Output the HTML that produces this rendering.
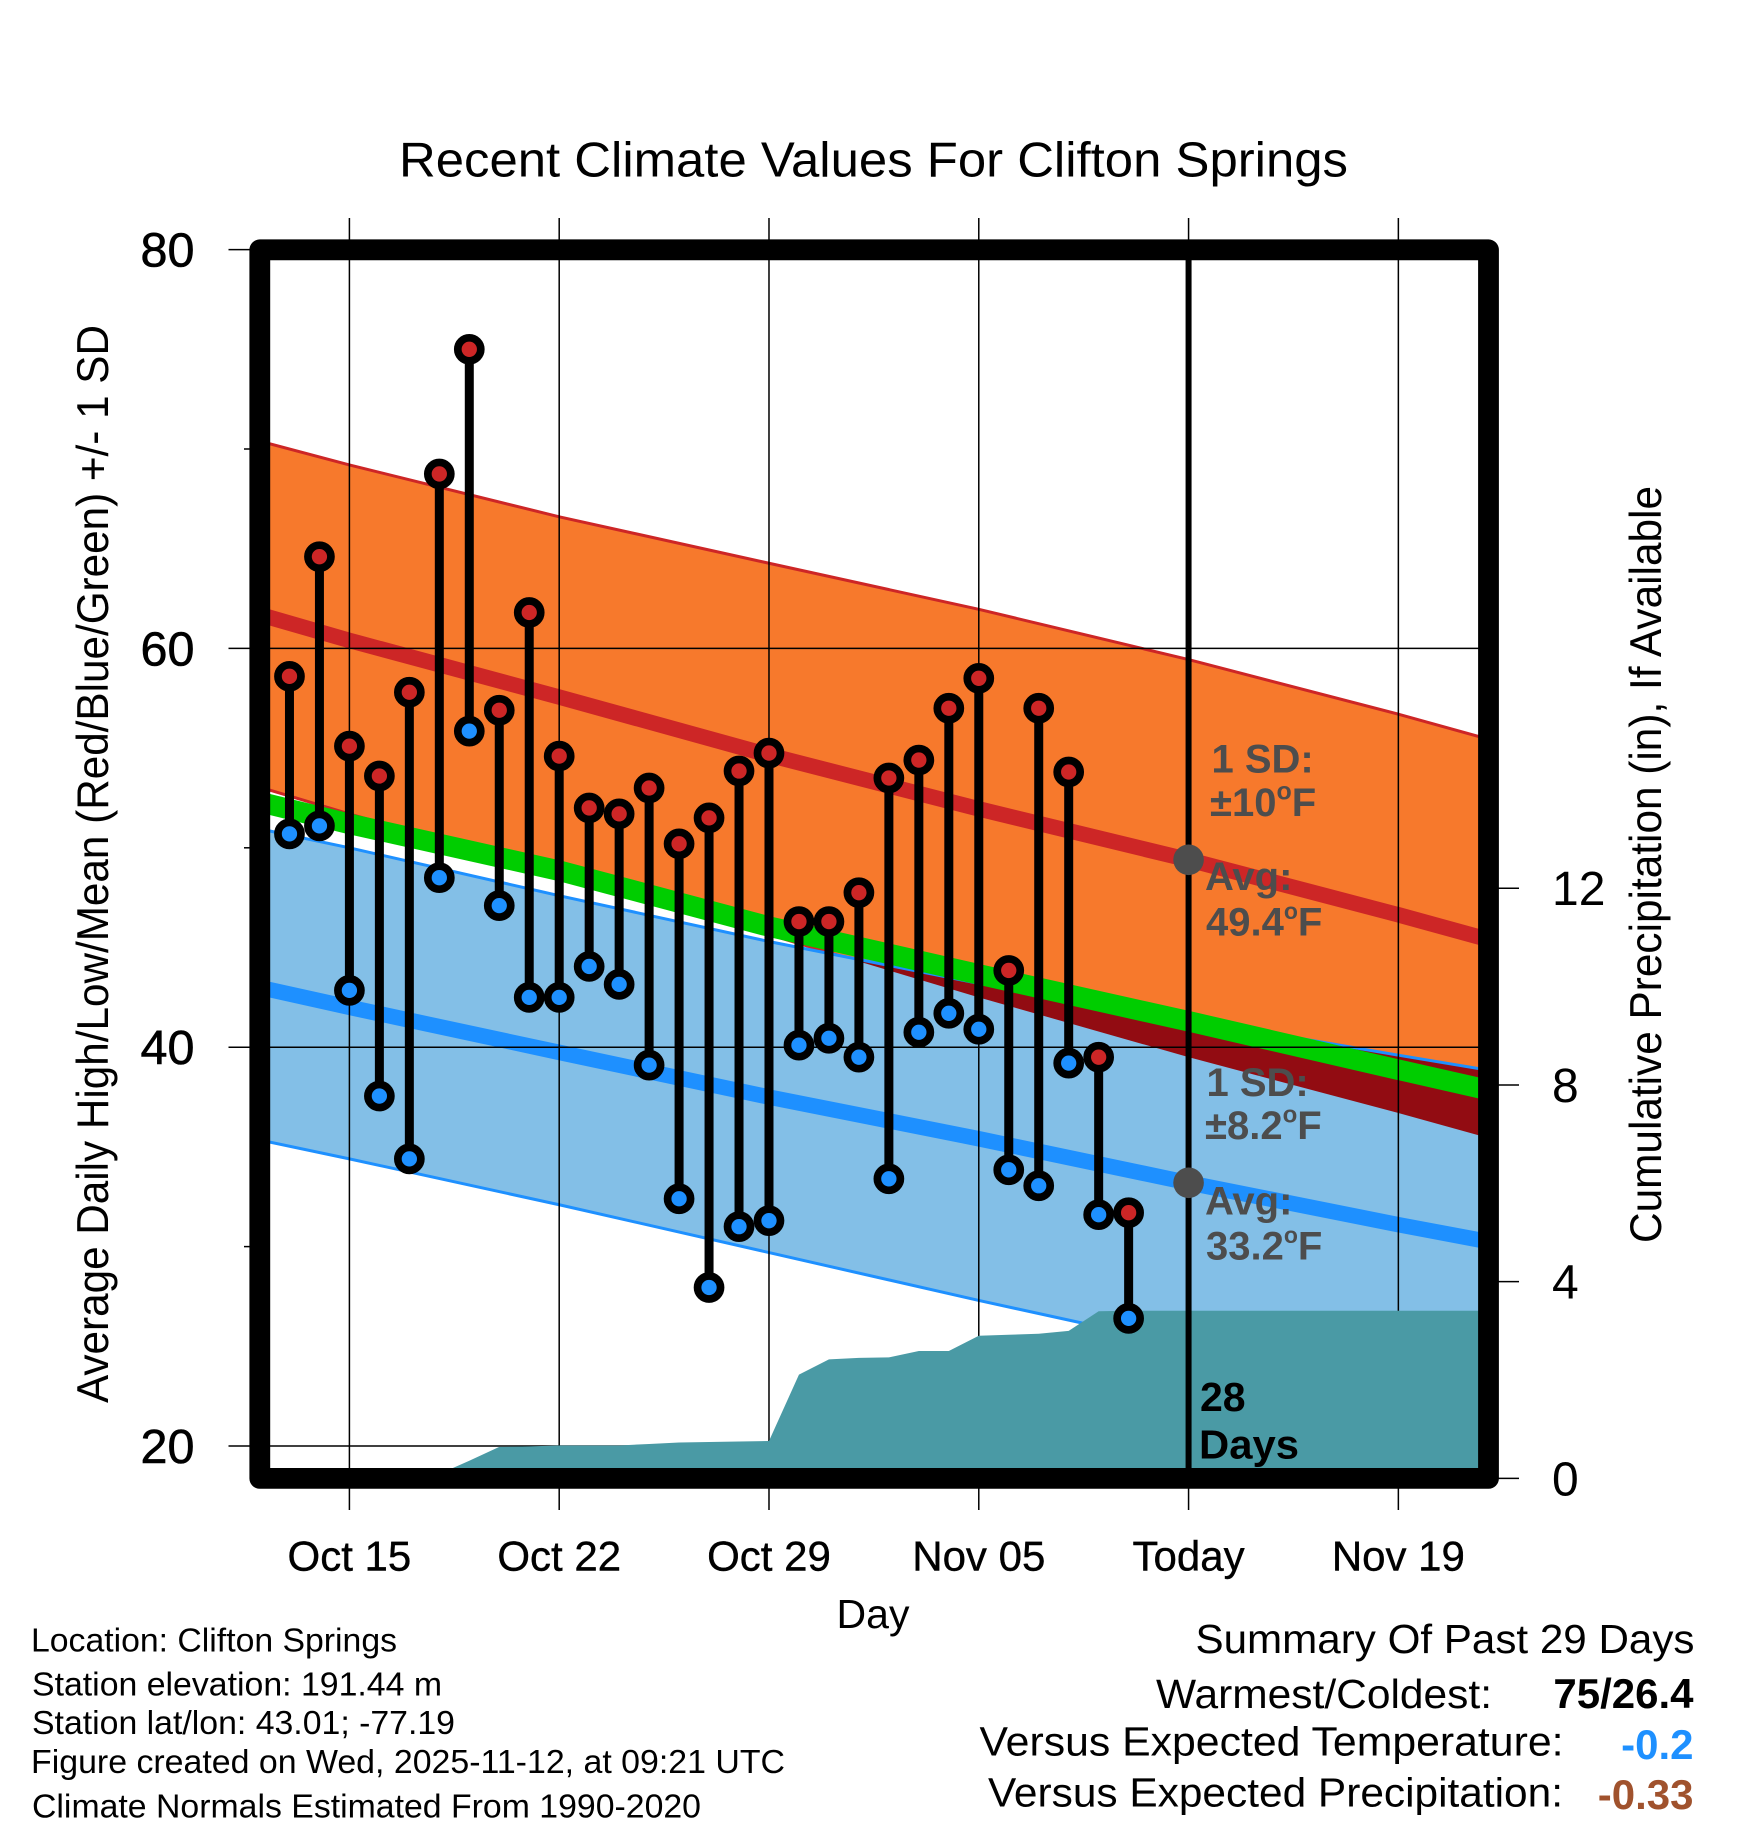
<!DOCTYPE html>
<html lang="en">
<head>
<meta charset="utf-8">
<title>Recent Climate Values For Clifton Springs</title>
<style>
html,body{margin:0;padding:0;background:#fff;}
svg{display:block;font-family:"Liberation Sans",Arial,sans-serif;}
</style>
</head>
<body>
<svg id="chart" xmlns="http://www.w3.org/2000/svg" width="1748" height="1828" viewBox="0 0 1748 1828">
  <defs>
    <clipPath id="plot-clip"><rect x="260" y="250" width="1228" height="1228"/></clipPath>
    <clipPath id="warm-clip"><polygon id="warm-clip-poly" points="0,0"/></clipPath>
  </defs>
  <g id="plot" clip-path="url(#plot-clip)"></g>
  <g id="axes"></g>

  <text x="399" y="176.5" font-size="49" textLength="949" lengthAdjust="spacingAndGlyphs">Recent Climate Values For Clifton Springs</text>
  <text transform="translate(108,1403) rotate(-90)" font-size="44.5" textLength="1078" lengthAdjust="spacingAndGlyphs">Average Daily High/Low/Mean (Red/Blue/Green) +/- 1 SD</text>
  <text transform="translate(1661,1243) rotate(-90)" font-size="44.5" textLength="757" lengthAdjust="spacingAndGlyphs">Cumulative Precipitation (in), If Available</text>
  <text x="873" y="1628" font-size="41" text-anchor="middle">Day</text>

  <g font-size="40" font-weight="bold" fill="#4d4d4d">
    <text x="1211.5" y="772.7">1 SD:</text>
    <text x="1210" y="816">±10<tspan dy="-16.5" font-size="25">o</tspan><tspan dy="16.5">F</tspan></text>
    <text x="1205" y="890">Avg:</text>
    <text x="1206" y="935.4">49.4<tspan dy="-16.5" font-size="23">o</tspan><tspan dy="16.5">F</tspan></text>
  </g>
  <g font-size="40" font-weight="bold" fill="#4d4d4d">
    <text x="1206.5" y="1096">1 SD:</text>
    <text x="1205" y="1139">±8.2<tspan dy="-16.5" font-size="24">o</tspan><tspan dy="16.5">F</tspan></text>
    <text x="1205" y="1214.7">Avg:</text>
    <text x="1206" y="1259.5">33.2<tspan dy="-16.5" font-size="23">o</tspan><tspan dy="16.5">F</tspan></text>
  </g>
  <g font-size="41" font-weight="bold" fill="#000">
    <text x="1200" y="1411">28</text>
    <text x="1199" y="1458.3" textLength="100" lengthAdjust="spacingAndGlyphs">Days</text>
  </g>

  <g font-size="33">
    <text x="31" y="1651.3" textLength="366" lengthAdjust="spacingAndGlyphs">Location: Clifton Springs</text>
    <text x="32" y="1695.3" textLength="410" lengthAdjust="spacingAndGlyphs">Station elevation: 191.44 m</text>
    <text x="32" y="1734" textLength="423" lengthAdjust="spacingAndGlyphs">Station lat/lon: 43.01; -77.19</text>
    <text x="31" y="1773" textLength="754" lengthAdjust="spacingAndGlyphs">Figure created on Wed, 2025-11-12, at 09:21 UTC</text>
    <text x="32" y="1817.3" textLength="669" lengthAdjust="spacingAndGlyphs">Climate Normals Estimated From 1990-2020</text>
  </g>

  <g font-size="41">
    <text x="1195.5" y="1653" textLength="499" lengthAdjust="spacingAndGlyphs">Summary Of Past 29 Days</text>
    <text x="1156" y="1708" textLength="336" lengthAdjust="spacingAndGlyphs">Warmest/Coldest:</text>
    <text x="1693.5" y="1708" text-anchor="end" font-weight="bold" font-size="42">75/26.4</text>
    <text x="979.5" y="1755.3" textLength="584" lengthAdjust="spacingAndGlyphs">Versus Expected Temperature:</text>
    <text x="1693.5" y="1759" text-anchor="end" font-weight="bold" font-size="42" fill="#1e90ff">-0.2</text>
    <text x="988" y="1806.3" textLength="575" lengthAdjust="spacingAndGlyphs">Versus Expected Precipitation:</text>
    <text x="1693.5" y="1809" text-anchor="end" font-weight="bold" font-size="42" fill="#a0522d">-0.33</text>
  </g>
</svg>

<script>
// ---- Data ----
// Day offsets are counted from Oct 12.
const normalDays = [0, 3, 10, 17, 24, 31, 38, 41];
const highUpper  = [70.4, 69.2, 66.6, 64.27, 61.96, 59.44, 56.7, 55.45];
const highMean   = [61.7, 60.4, 57.56, 54.65, 51.95, 49.4, 46.64, 45.4];
const highLower  = [53.05, 51.7, 48.7, 45.65, 42.5, 39.5, 36.7, 35.45];
const lowUpper   = [50.95, 50.0, 47.6, 45.3, 43.2, 41.4, 39.6, 38.85];
const lowMean    = [43.0, 42.0, 39.74, 37.5, 35.41, 33.2, 31.1, 30.25];
const lowLower   = [35.35, 34.4, 32.1, 29.7, 27.3, 25.0, 22.9, 22.0];
const dailyMean  = [52.3, 51.2, 48.85, 46.05, 43.65, 41.3, 38.87, 37.85];

const obsDays = [1,2,3,4,5,6,7,8,9,10,11,12,13,14,15,16,17,18,19,20,21,22,23,24,25,26,27,28,29];
const obsHigh = [58.6,64.6,55.1,53.6,57.8,68.75,75.0,56.9,61.8,54.6,52.0,51.7,53.0,50.2,51.5,53.85,54.75,46.3,46.3,47.75,53.5,54.4,57.0,58.5,43.85,57.0,53.8,39.5,31.7];
const obsLow  = [50.7,51.1,42.85,37.55,34.4,48.5,55.85,47.1,42.5,42.5,44.05,43.15,39.1,32.4,27.95,31.0,31.3,40.1,40.45,39.5,33.4,40.75,41.7,40.9,33.85,33.05,39.2,31.6,26.4];

const precipDays = [0,1,2,3,4,5,6,7,8,9,10,11,12,13,14,15,16,17,18,19,20,21,22,23,24,25,26,27,28,29,30,31,32,33,34,35,36,37,38,39,40,41];
const precipTotals = [0,0,0,0,0,0,0.09,0.36,0.64,0.65,0.67,0.67,0.67,0.70,0.73,0.74,0.75,0.76,2.11,2.42,2.45,2.46,2.59,2.59,2.90,2.92,2.94,3.0,3.40,3.41,3.41,3.41,3.41,3.41,3.41,3.41,3.41,3.41,3.41,3.41,3.41,3.41];

const xTickDays = [3, 10, 17, 24, 31, 38];
const xTickLabels = ["Oct 15", "Oct 22", "Oct 29", "Nov 05", "Today", "Nov 19"];
const yMajorTicks = [80, 60, 40, 20];
const yMinorTicks = [70, 50, 30];
const precipTicks = [0, 4, 8, 12];
const todayDay = 31;
const todayHighAvg = 49.4;
const todayLowAvg = 33.2;

// ---- Axis functions ----
function xDay(d) { return 259.5 + d * 29.97; }
function yTemp(t) { return 249.6 + (80 - t) * 19.94; }
function yPrecip(p) { return 1478.4 - p * 49.18; }

const SVG_NS = "http://www.w3.org/2000/svg";
const plot = document.getElementById("plot");
const axes = document.getElementById("axes");

function mk(tag, parent, attrs, text) {
  const el = document.createElementNS(SVG_NS, tag);
  for (const k in attrs) el.setAttribute(k, attrs[k]);
  if (text !== undefined) el.textContent = text;
  parent.appendChild(el);
  return el;
}
function linePts(vals) {
  return normalDays.map(function (d, i) { return xDay(d).toFixed(2) + "," + yTemp(vals[i]).toFixed(2); });
}
function bandPts(upper, lower) {
  return linePts(upper).concat(linePts(lower).reverse()).join(" ");
}

// Orange (high temperature) band
const warmBand = mk("polygon", plot, { points: bandPts(highUpper, highLower), fill: "#f7792c" });


document.getElementById("warm-clip-poly").setAttribute("points", bandPts(highUpper, highLower));

// High band edges sit beneath the blue band, so the lower edge vanishes where the bands overlap
const highUpperEdge = mk("polyline", plot, { points: linePts(highUpper).join(" "), fill: "none", stroke: "#cd2626", "stroke-width": 3 });


const highLowerEdge = mk("polyline", plot, { points: linePts(highLower).join(" "), fill: "none", stroke: "#cd2626", "stroke-width": 3 });



// Light blue (low temperature) band
const coolBand = mk("polygon", plot, { points: bandPts(lowUpper, lowLower), fill: "#83bfe7" });



// Overlap of the two bands
const overlap = mk("polygon", plot, { points: bandPts(lowUpper, lowLower), fill: "#920c12", "clip-path": "url(#warm-clip)" });



// Low band edges
const lowUpperEdge = mk("polyline", plot, { points: linePts(lowUpper).join(" "), fill: "none", stroke: "#1e90ff", "stroke-width": 3 });


const lowLowerEdge = mk("polyline", plot, { points: linePts(lowLower).join(" "), fill: "none", stroke: "#1e90ff", "stroke-width": 3 });



// Mean lines
const highMeanLine = mk("polyline", plot, { points: linePts(highMean).join(" "), fill: "none", stroke: "#cd2626", "stroke-width": 15.5 });


const lowMeanLine = mk("polyline", plot, { points: linePts(lowMean).join(" "), fill: "none", stroke: "#1e90ff", "stroke-width": 15.5 });


const dailyMeanLine = mk("polyline", plot, { points: linePts(dailyMean).join(" "), fill: "none", stroke: "#00cd00", "stroke-width": 20.5 });



// Gridlines inside the plot (beneath the precipitation area)
xTickDays.forEach(function (d) {
  const g = mk("line", plot, { x1: xDay(d), x2: xDay(d), y1: 250, y2: 1480, stroke: "#000", "stroke-width": 1.5 });
  
  
});
yMajorTicks.forEach(function (t) {
  const g = mk("line", plot, { x1: 260, x2: 1488, y1: yTemp(t), y2: yTemp(t), stroke: "#000", "stroke-width": 1.5 });
  
  
});

// Tick marks outside the frame
xTickDays.forEach(function (d) {
  const top = mk("line", axes, { x1: xDay(d), x2: xDay(d), y1: 218, y2: 245, stroke: "#000", "stroke-width": 1.5 });
  
  
  const bottom = mk("line", axes, { x1: xDay(d), x2: xDay(d), y1: 1484, y2: 1510, stroke: "#000", "stroke-width": 1.5 });
  
  
});
yMajorTicks.forEach(function (t) {
  const g = mk("line", axes, { x1: 228.5, x2: 255, y1: yTemp(t), y2: yTemp(t), stroke: "#000", "stroke-width": 1.5 });
  
  
});
yMinorTicks.forEach(function (t) {
  const g = mk("line", axes, { x1: 244, x2: 260, y1: yTemp(t), y2: yTemp(t), stroke: "#000", "stroke-width": 1.5 });
  
  
});
precipTicks.forEach(function (p) {
  const g = mk("line", axes, { x1: 1490, x2: 1519, y1: yPrecip(p), y2: yPrecip(p), stroke: "#000", "stroke-width": 1.5 });
  
  
});

// Cumulative precipitation area
const precipPts = precipDays.map(function (d, i) { return xDay(d).toFixed(2) + "," + yPrecip(precipTotals[i]).toFixed(2); });
precipPts.push(xDay(41).toFixed(2) + "," + yPrecip(0).toFixed(2));
precipPts.push(xDay(0).toFixed(2) + "," + yPrecip(0).toFixed(2));
const precipArea = mk("polygon", plot, { points: precipPts.join(" "), fill: "#4a9aa5" });



// Today marker line
const todayLine = mk("line", plot, { x1: xDay(todayDay), x2: xDay(todayDay), y1: 250, y2: 1480, stroke: "#000", "stroke-width": 6 });



// Observed high/low stems and markers
obsDays.forEach(function (d, i) {
  const x = xDay(d);
  const stem = mk("line", plot, { x1: x, x2: x, y1: yTemp(obsHigh[i]), y2: yTemp(obsLow[i]), stroke: "#000", "stroke-width": 9 });
  
  
  const low = mk("circle", plot, { cx: x, cy: yTemp(obsLow[i]), r: 11.5, fill: "#1e90ff", stroke: "#000", "stroke-width": 7.7 });
  
  
  const high = mk("circle", plot, { cx: x, cy: yTemp(obsHigh[i]), r: 11.5, fill: "#cd2626", stroke: "#000", "stroke-width": 7.7 });
  
  
});

// Today's average dots
const highDot = mk("circle", plot, { cx: xDay(todayDay), cy: yTemp(todayHighAvg), r: 15.3, fill: "#4d4d4d" });


const lowDot = mk("circle", plot, { cx: xDay(todayDay), cy: yTemp(todayLowAvg), r: 15.3, fill: "#4d4d4d" });



// Heavy frame
const frame = mk("rect", axes, { x: 259.8, y: 249.8, width: 1228.7, height: 1228.6, fill: "none", stroke: "#000", "stroke-width": 20.8, "stroke-linejoin": "round" });



// Tick labels
yMajorTicks.forEach(function (t) {
  const lab = mk("text", axes, { x: 194.5, y: yTemp(t) + 17, "font-size": 48.5, "text-anchor": "end", stroke: "#000", "stroke-width": 0.6 }, String(t));
  
  
});
precipTicks.forEach(function (p) {
  const lab = mk("text", axes, { x: 1552, y: yPrecip(p) + 17, "font-size": 48 }, String(p));
  
  
});
xTickDays.forEach(function (d, i) {
  const lab = mk("text", axes, { x: xDay(d), y: 1570.5, "font-size": 42, "text-anchor": "middle", stroke: "#000", "stroke-width": 0.4 }, xTickLabels[i]);
  
  
});
</script>
</body>
</html>
